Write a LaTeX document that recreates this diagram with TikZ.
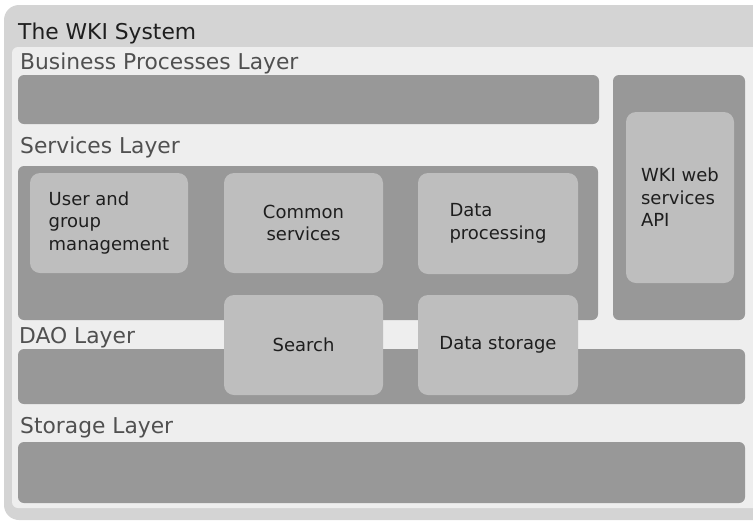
\documentclass[tikz,border=0pt]{standalone}
\usepackage{fontspec}
\setmainfont{DejaVu Sans}
\definecolor{framegray}{RGB}{212,212,212}
\definecolor{panelgray}{RGB}{238,238,238}
\definecolor{bargray}{RGB}{152,152,152}
\definecolor{boxgray}{RGB}{190,190,190}
\definecolor{labelgray}{RGB}{80,80,80}
\definecolor{textdark}{RGB}{30,30,30}
\begin{document}
\begin{tikzpicture}[x=1pt,y=-1pt,
  layerbar/.style={fill=bargray, rounded corners=6pt},
  compbox/.style={fill=boxgray, rounded corners=10pt, text=textdark,
    font=\fontsize{18}{22.5}\selectfont, inner sep=0pt},
  layerlabel/.style={anchor=base west, inner sep=0pt, text=labelgray,
    font=\fontsize{21.8}{26}\selectfont},
  titlelabel/.style={anchor=base west, inner sep=0pt, text=textdark,
    font=\fontsize{21.8}{26}\selectfont}]
\useasboundingbox (0,0) rectangle (753,523);
\clip (0,0) rectangle (753,523);

% frame and panel
\fill[framegray, rounded corners=15pt] (4,5) rectangle (775,520);
\fill[panelgray, rounded corners=6pt] (12,47) rectangle (765,508);

\node[titlelabel] (title) at (18,39.5) {The WKI System};

% layers
\node[layerlabel] (bpl) at (20,69) {Business Processes Layer};
\path[layerbar] (18,75) rectangle (599,124);

\node[layerlabel] (sl) at (20,153) {Services Layer};
\path[layerbar] (18,166) rectangle (598,320);

\node[layerlabel] (dao) at (19,343) {DAO Layer};
\path[layerbar] (18,349) rectangle (745,404);

\node[layerlabel] (stl) at (20,433) {Storage Layer};
\path[layerbar] (18,442) rectangle (745,503);

% web services column
\path[layerbar] (613,75) rectangle (745,320);
\node[compbox, minimum width=108, minimum height=171, align=left] (api)
  at (680,197.5) {WKI web\\services\\API};

% service components
\node[compbox, minimum width=158, minimum height=100, align=left] (users)
  at (109,223) {User and\\group\\management};
\node[compbox, minimum width=159, minimum height=100, align=center] (common)
  at (303.5,223) {Common\\services};
\node[compbox, minimum width=160, minimum height=101, align=left] (proc)
  at (498,223.5) {Data\\processing};
\node[compbox, minimum width=159, minimum height=100] (search)
  at (303.5,345) {Search};
\node[compbox, minimum width=160, minimum height=100] (storage)
  at (498,345) {Data storage};
\end{tikzpicture}
\end{document}
